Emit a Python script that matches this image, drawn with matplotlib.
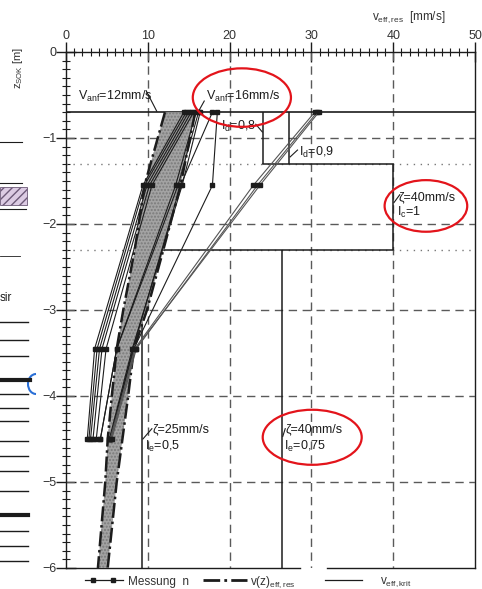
import matplotlib.pyplot as plt
from matplotlib.patches import Ellipse, Rectangle, Arc

plt.rcParams['font.family'] = ['Liberation Sans', 'DejaVu Sans']
plt.rcParams['mathtext.fontset'] = 'custom'
plt.rcParams['mathtext.rm'] = 'Liberation Sans'
plt.rcParams['mathtext.it'] = 'Liberation Sans:italic'
plt.rcParams['mathtext.bf'] = 'Liberation Sans:bold'

INK = '#1c1c1c'
GRID = '#5a5a5a'
RED = '#e3141b'

#  Measurements (Messung n): depth levels [m] and v_eff,res [mm/s]
meas_z = [-0.7, -1.55, -3.45, -4.5]
meas_v = [
    [14.4, 9.4, 3.5, 2.6],
    [14.7, 9.6, 3.8, 2.8],
    [15.0, 9.9, 4.1, 3.0],
    [15.3, 10.2, 4.4, 3.3],
    [15.6, 10.5, 4.9, 3.7],
    [15.9, 13.4, 6.2, 4.2],
    [16.2, 13.7, 6.2, 4.2],
    [16.4, 14.2, 8.1, 5.3],
    [17.9, 14.0, 8.2, 5.4],
    [18.5, 17.9, 8.3, 5.4],
    [30.4, 22.9, 8.4, 5.5],
    [30.7, 23.4, 8.6, 5.6],
    [30.9, 23.7, 8.5, 5.4],
]

#  v(z)_eff,res band
band_z = [-0.7, -1.55, -2.3, -3.0, -3.45, -4.0, -4.5, -5.0, -6.0]
band_lo = [12.1, 9.6, 8.4, 7.0, 6.2, 5.6, 5.1, 4.8, 3.9]
band_hi = [15.8, 14.0, 11.9, 9.9, 8.3, 7.6, 6.9, 6.2, 5.1]

#  v_eff,krit per layer
krit_v = [24.1, 27.3, 40.0, 9.3, 26.4]
krit_top = [-0.7, -0.7, -1.3, -2.3, -2.3]
krit_bot = [-1.3, -1.3, -2.3, -6.0, -6.0]
layer_z = [-0.7, -1.3, -2.3]

fig = plt.figure(figsize=(4.82, 5.89), dpi=100)

# background axes in pixel coords (left strip + legend)
bg = fig.add_axes([0, 0, 1, 1], zorder=-1)
bg.set_xlim(0, 482)
bg.set_ylim(589, 0)
bg.axis('off')

# cut-off neighbour figure on the left
bg.add_patch(Rectangle((0, 187), 27, 18, facecolor='#dccbe3', edgecolor='#6d5a78',
                       hatch='////', lw=0.6))
for y, x1, w in [(142, 22, 0.8), (183, 22, 0.8), (209, 26, 0.8), (256, 20, 0.6),
                 (322, 28, 1.0), (340, 28, 1.0), (356, 28, 1.0), (380, 30, 3.0),
                 (394, 28, 1.0), (408, 28, 1.0), (421, 28, 1.0), (441, 28, 1.0),
                 (456, 28, 1.0), (471, 28, 1.0), (491, 28, 1.0), (515, 28, 3.0),
                 (531, 28, 1.0), (546, 28, 1.0), (561, 28, 1.0)]:
    bg.plot([0, x1], [y, y], color=INK, lw=w)
bg.add_patch(Arc((36, 384), 16, 20, theta1=90, theta2=270, color='#2a6fd6', lw=1.5))
bg.text(0, 298, 'sir', fontsize=8.5, va='center', color=INK)

# main axes
ax = fig.add_axes([66 / 482, 1 - 568 / 589, (475 - 66) / 482, (568 - 52) / 589])
ax.patch.set_alpha(0)
ax.set_xlim(0, 50)
ax.set_ylim(-6, 0)
for s in ['right', 'bottom']:
    ax.spines[s].set_visible(False)
for s in ['left', 'top']:
    ax.spines[s].set_linewidth(1.0)
    ax.spines[s].set_color(INK)

ax.xaxis.set_ticks_position('top')
ax.set_xticks(range(0, 51, 10))
ax.set_xticks(range(0, 51), minor=True)
ax.set_yticks(range(-6, 1))
ax.set_yticks([i / 10 for i in range(-60, 1)], minor=True)
ax.tick_params(which='major', direction='inout', length=14, width=1.0, color=INK,
               labelsize=9, labelcolor='#333333', pad=0)
ax.tick_params(which='minor', direction='inout', length=6, width=0.8, color=INK)

# frame right / bottom (bottom with scan gap)
ax.plot([50, 50], [0, -6], color=INK, lw=1.0, clip_on=False)
ax.plot([0, 28.6], [-6, -6], color=INK, lw=1.0, clip_on=False)
ax.plot([31.9, 50], [-6, -6], color=INK, lw=1.0, clip_on=False)

# grid
for x in range(10, 50, 10):
    ax.plot([x, x], [0, -6], color=GRID, lw=1.0, ls=(0, (6, 4)))
for z in range(-5, 0):
    ax.plot([0, 50], [z, z], color=GRID, lw=1.0, ls=(0, (6, 4)))
for z in layer_z[1:]:
    ax.plot([0, 50], [z, z], color='#777777', lw=1.0, ls=(0, (1, 4)))
ax.plot([0, 50], [layer_z[0], layer_z[0]], color=INK, lw=1.2)

# v_eff,krit
ax.vlines(krit_v, krit_bot, krit_top, color=INK, lw=1.1)
ax.plot([min(krit_v[0], krit_v[1]), krit_v[2]], [-1.3, -1.3], color=INK, lw=1.1)
ax.plot([krit_v[3], krit_v[2]], [-2.3, -2.3], color=INK, lw=1.1)

# v(z)_eff,res band
ax.fill_betweenx(band_z, band_lo, band_hi, facecolor='#a3a3a3', edgecolor='#7a7a7a',
                 hatch='.....', lw=0, zorder=2)
for edge in (band_lo, band_hi):
    ax.plot(edge, band_z, color=INK, lw=1.8, ls=(0, (6, 1.5, 1, 1.5)), zorder=3)

# measurements
for vals in meas_v:
    col = '#555555' if vals[0] > 25 else INK
    ax.plot(vals, meas_z, color=col, lw=0.8, marker='s', ms=2.6, mfc=INK, mec=INK,
            zorder=4)

# annotations
TXT = dict(fontsize=9, va='center', color=INK)
ax.text(1.5, -0.52, r'V$_{\rm anf}$=12mm/s', **TXT)
ax.plot([9.8, 11.1], [-0.45, -0.69], color=INK, lw=0.8)
ax.text(17.1, -0.52, r'V$_{\rm anf}$=16mm/s', **TXT)
ax.plot([16.9, 16.2], [-0.57, -0.69], color=INK, lw=0.8)
ax.text(19.0, -0.87, r'I$_{\rm d}$=0,8', **TXT)
ax.plot([23.2, 24.0], [-0.84, -0.93], color=INK, lw=0.8)
ax.text(28.5, -1.17, r'I$_{\rm d}$=0,9', **TXT)
ax.plot([28.3, 27.4], [-1.14, -1.22], color=INK, lw=0.8)
ax.text(40.7, -1.69, 'ζ=40mm/s', **TXT)
ax.plot([40.8, 40.1], [-1.66, -1.75], color=INK, lw=0.8)
ax.text(40.5, -1.87, r'I$_{\rm c}$=1', **TXT)
ax.text(10.6, -4.39, 'ζ=25mm/s', **TXT)
ax.plot([10.5, 9.4], [-4.38, -4.5], color=INK, lw=0.8)
ax.text(9.7, -4.59, r'I$_{\rm e}$=0,5', **TXT)
ax.text(26.8, -4.39, 'ζ=40mm/s', **TXT)
ax.plot([26.8, 26.5], [-4.38, -4.47], color=INK, lw=0.8)
ax.text(26.7, -4.59, r'I$_{\rm e}$=0,75', **TXT)

# red highlight ellipses
for cx, cz, w, h in [(21.5, -0.53, 12.0, 0.68), (44.0, -1.79, 10.1, 0.6),
                     (30.1, -4.48, 12.1, 0.64)]:
    ax.add_patch(Ellipse((cx, cz), w, h, fill=False, edgecolor=RED, lw=1.6,
                         clip_on=False, zorder=6))

# axis labels
bg.text(372, 17, r'v$_{\rm eff,res}$  [mm/s]', fontsize=8.5, va='center', color='#333333')
bg.text(18, 68, r'z$_{\rm SOK}$ [m]', fontsize=8, rotation=90, ha='center',
        va='center', color='#333333')

# legend
bg.plot([85, 123], [580, 580], color=INK, lw=0.9)
bg.plot([93, 113], [580, 580], ls='none', marker='s', ms=2.6, color=INK)
bg.text(128, 582, 'Messung  n', fontsize=8.5, va='center', color='#333333')
bg.plot([203, 247], [580, 580], color=INK, lw=2.0, ls=(0, (6, 1.5, 1, 1.5)))
bg.text(250, 582, r'v(z)$_{\rm eff,res}$', fontsize=8.5, va='center', color='#333333')
bg.plot([325, 362], [580, 580], color=INK, lw=0.9)
bg.text(380, 582, r'v$_{\rm eff,krit}$', fontsize=8.5, va='center', color='#333333')

fig.savefig('out.png', dpi=100)
